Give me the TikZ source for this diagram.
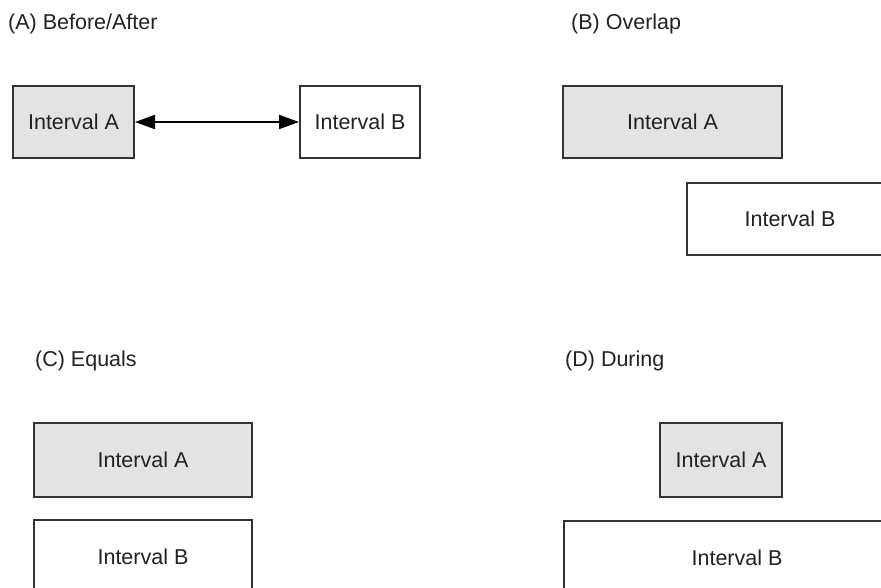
\documentclass[tikz,border=0pt]{standalone}
\usepackage{fontspec}
\setmainfont{Liberation Sans}
\usetikzlibrary{arrows.meta}
\definecolor{boxline}{HTML}{333333}
\definecolor{boxgray}{HTML}{E3E3E3}
\definecolor{txt}{HTML}{222222}
\begin{document}
\begin{tikzpicture}[x=1pt,y=-1pt,
    interval/.style={draw=boxline, line width=2pt, fill=white, text=txt,
        minimum height=72pt, inner sep=0pt,
        font=\fontsize{21.5}{25}\selectfont},
    shaded/.style={interval, fill=boxgray},
    caption/.style={anchor=west, inner sep=0pt, text=txt,
        font=\fontsize{21.5}{25}\selectfont}]
    \useasboundingbox (0,0) rectangle (881,587);
    \clip (0,0) rectangle (881,587);

    % (A) Before/After
    \node[caption] (capA) at (8,24) {(A) Before/After};
    \node[shaded, minimum width=121pt] (beforeA) at (73.5,122) {Interval A};
    \node[interval, minimum width=120pt] (afterB) at (360,122) {Interval B};
    \draw[{Triangle[length=20pt,width=14pt]}-{Triangle[length=20pt,width=14pt]},
        line width=2pt, draw=black] (beforeA) -- (afterB);

    % (B) Overlap
    \node[caption] (capB) at (571,24) {(B) Overlap};
    \node[shaded, minimum width=219pt] (overA) at (672.5,121.5) {Interval A};
    \node[interval, minimum width=206pt] (overB) at (790,219) {Interval B};

    % (C) Equals
    \node[caption] (capC) at (35,361) {(C) Equals};
    \node[shaded, minimum width=218pt, minimum height=74pt] (eqA) at (143,460) {Interval A};
    \node[interval, minimum width=218pt, minimum height=74pt] (eqB) at (143,557) {Interval B};

    % (D) During
    \node[caption] (capD) at (565,361) {(D) During};
    \node[shaded, minimum width=122pt, minimum height=74pt] (durA) at (721,460) {Interval A};
    \node[interval, minimum width=346pt, minimum height=74pt] (durB) at (737,558) {Interval B};
\end{tikzpicture}
\end{document}
